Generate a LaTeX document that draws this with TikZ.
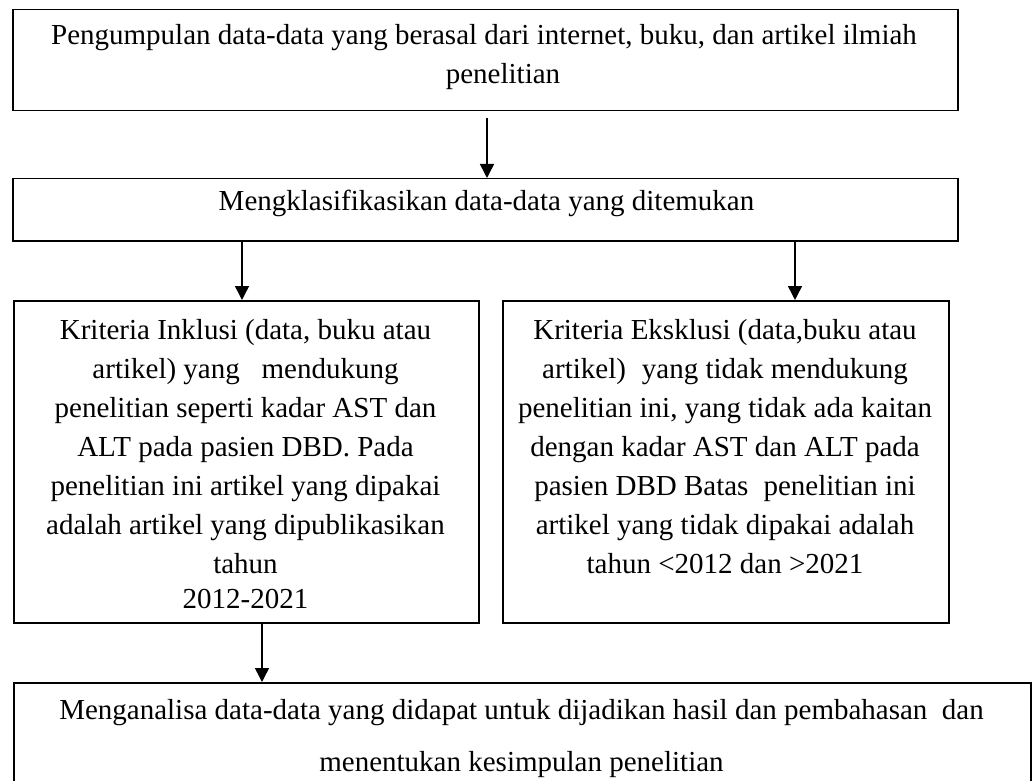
\documentclass[tikz,border=0pt]{standalone}
\usepackage{fontspec}
\setmainfont{Liberation Serif}
\usetikzlibrary{arrows.meta}
\begin{document}
\begin{tikzpicture}[x=1pt,y=-1pt,
  boxn/.style={draw, line width=1.5pt, inner sep=0pt, anchor=north west},
  txt/.style={inner sep=0pt, align=center, anchor=north, font=\fontsize{29}{39}\selectfont},
  arr/.style={line width=1.5pt, -{Triangle[width=14pt,length=14pt]}}]
\useasboundingbox (0,0) rectangle (1034,781);
% boxes
\node[boxn, minimum width=945pt, minimum height=101pt] (b1) at (12,9) {};
\node[boxn, minimum width=945pt, minimum height=62pt] (b2) at (12,178) {};
\node[boxn, minimum width=465pt, minimum height=322pt] (b3) at (13,300) {};
\node[boxn, minimum width=446pt, minimum height=322pt] (b4) at (502,300) {};
\node[boxn, minimum width=1017pt, minimum height=120pt] (b5) at (13,682) {};
% texts
\node[txt] (t1) at (484,24) {Pengumpulan data-data yang berasal dari internet, buku, dan artikel ilmiah\\\hspace*{38pt}penelitian};
\node[txt] (t2) at (486.5,190) {Mengklasifikasikan data-data yang ditemukan};
\node[txt] (t3) at (245.5,319) {Kriteria Inklusi (data, buku atau\\
artikel) yang\ \ \ mendukung\\
penelitian seperti kadar AST dan\\
ALT pada pasien DBD. Pada\\
penelitian ini artikel yang dipakai\\
adalah artikel yang dipublikasikan\\
tahun\\[-4pt]
2012-2021};
\node[txt] (t4) at (725,319) {Kriteria Eksklusi (data,buku atau\\
artikel)\hspace{16pt}yang tidak mendukung\\
penelitian ini, yang tidak ada kaitan\\
dengan kadar AST dan ALT pada\\
pasien DBD Batas\hspace{15pt}penelitian ini\\
artikel yang tidak dipakai adalah\\
tahun <2012 dan >2021};
\node[txt, font=\fontsize{29}{52}\selectfont] (t5) at (521.5,699) {Menganalisa data-data yang didapat untuk dijadikan hasil dan pembahasan\ \ dan\\
menentukan kesimpulan penelitian};
% connectors
\coordinate (a1) at (487,118);
\coordinate (x2) at (242,0);
\coordinate (x3) at (795,0);
\coordinate (x4) at (262,0);
\draw[arr] (a1) -- (a1 |- b2.north);
\draw[arr] (b2.south -| x2) -- (b3.north -| x2);
\draw[arr] (b2.south -| x3) -- (b4.north -| x3);
\draw[arr] (b3.south -| x4) -- (b5.north -| x4);
\end{tikzpicture}
\end{document}
